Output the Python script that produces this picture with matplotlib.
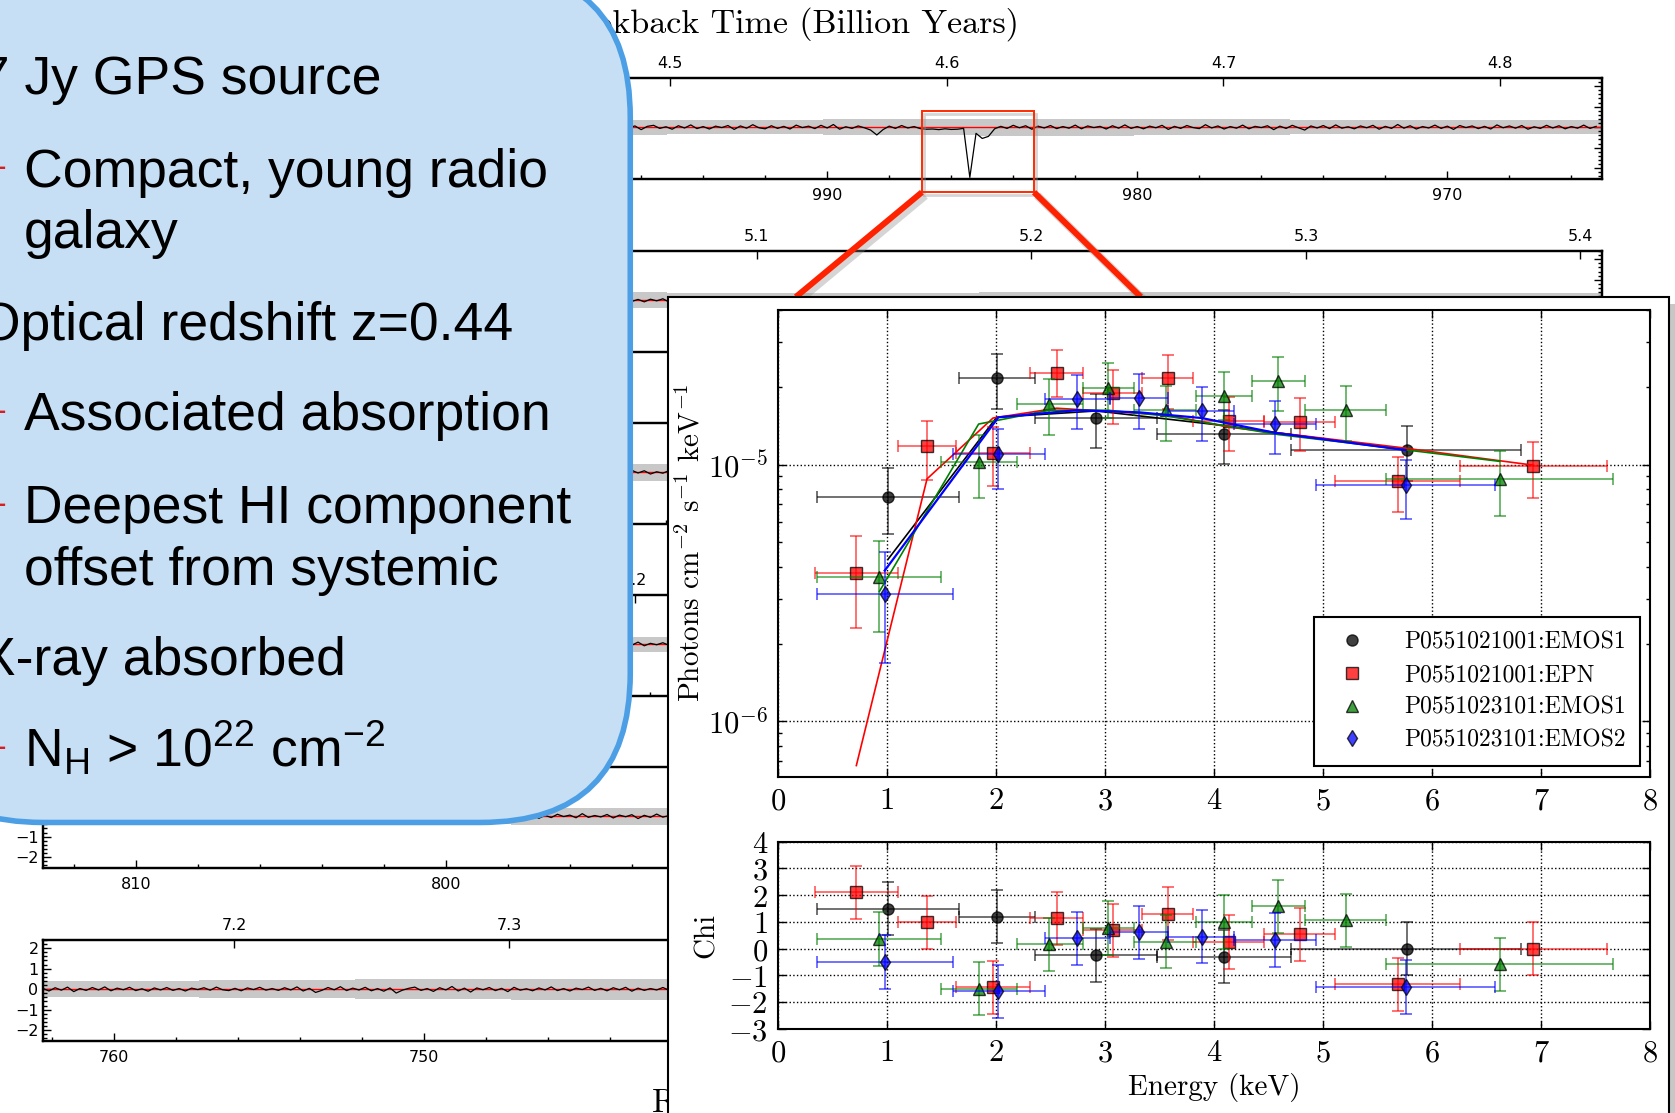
import numpy as np
import matplotlib.pyplot as plt
from matplotlib.patches import FancyBboxPatch, Rectangle
from matplotlib.lines import Line2D
from matplotlib.ticker import MultipleLocator, LogLocator, FuncFormatter, NullFormatter

plt.rcParams['mathtext.fontset'] = 'cm'
plt.rcParams['mathtext.rm'] = 'Liberation Sans'
plt.rcParams['mathtext.it'] = 'Liberation Sans:italic'
plt.rcParams['mathtext.bf'] = 'Liberation Sans:bold'

W, H = 1568.0, 1042.0  # layout units: pixels of the slide view


def box(x0, y0, x1, y1):
    return [x0 / W, 1 - y1 / H, (x1 - x0) / W, (y1 - y0) / H]


# ---------------- X-ray spectrum data (E in keV, flux in photons/cm2/s/keV) ----------------
k_e = [1.011, 2.007, 2.921, 4.092, 5.765]
k_elo = [0.364, 1.665, 2.356, 3.48, 4.709]
k_ehi = [1.665, 2.356, 3.48, 4.709, 6.81]
k_f = [7.48e-6, 2.17e-5, 1.52e-5, 1.32e-5, 1.14e-5]
k_flo = [5.34e-6, 1.65e-5, 1.16e-5, 1.01e-5, 8.6e-6]
k_fhi = [9.70e-6, 2.70e-5, 1.88e-5, 1.64e-5, 1.42e-5]
k_mod = [4.27e-6, 1.53e-5, 1.62e-5, 1.42e-5, 1.14e-5]
k_chi = [1.49, 1.19, -0.26, -0.30, 0.0]

r_e = [0.721, 1.369, 1.974, 2.557, 3.074, 3.578, 4.138, 4.786, 5.682, 6.927]
r_elo = [0.342, 1.1, 1.638, 2.313, 2.799, 3.339, 3.807, 4.459, 5.110, 6.251]
r_ehi = [1.1, 1.638, 2.313, 2.799, 3.339, 3.807, 4.459, 5.110, 6.251, 7.606]
r_f = [3.79e-6, 1.18e-5, 1.11e-5, 2.27e-5, 1.90e-5, 2.17e-5, 1.48e-5, 1.47e-5, 8.61e-6, 9.88e-6]
r_flo = [2.30e-6, 8.69e-6, 8.28e-6, 1.83e-5, 1.44e-5, 1.65e-5, 1.13e-5, 1.13e-5, 6.53e-6, 7.40e-6]
r_fhi = [5.28e-6, 1.48e-5, 1.40e-5, 2.80e-5, 2.34e-5, 2.68e-5, 1.83e-5, 1.82e-5, 1.07e-5, 1.23e-5]
r_mod = [6.7e-7, 8.8e-6, 1.52e-5, 1.66e-5, 1.61e-5, 1.56e-5, 1.40e-5, 1.30e-5, 1.17e-5, 9.95e-6]
r_chi = [2.1, 0.975, -1.45, 1.125, 0.675, 1.3, 0.24, 0.525, -1.34, 0.0]

g_e = [0.932, 1.842, 2.490, 3.031, 3.556, 4.092, 4.590, 5.205, 6.618]
g_elo = [0.364, 1.5, 2.19, 2.799, 3.266, 3.837, 4.349, 4.832, 5.578]
g_ehi = [1.5, 2.19, 2.799, 3.266, 3.837, 4.349, 4.832, 5.578, 7.654]
g_f = [3.63e-6, 1.02e-5, 1.73e-5, 1.99e-5, 1.63e-5, 1.85e-5, 2.12e-5, 1.63e-5, 8.77e-6]
g_flo = [2.23e-6, 7.38e-6, 1.30e-5, 1.52e-5, 1.24e-5, 1.49e-5, 1.62e-5, 1.24e-5, 6.30e-6]
g_fhi = [5.05e-6, 1.30e-5, 2.16e-5, 2.49e-5, 2.02e-5, 2.30e-5, 2.62e-5, 2.02e-5, 1.13e-5]
g_mod = [3.2e-6, 1.44e-5, 1.63e-5, 1.63e-5, 1.55e-5, 1.42e-5, 1.31e-5, 1.22e-5, 1.03e-5]
g_chi = [0.35, -1.5, 0.16, 0.775, 0.26, 0.99, 1.575, 1.05, -0.59]

b_e = [0.981, 2.023, 2.744, 3.312, 3.886, 4.563, 5.755]
b_elo = [0.364, 1.607, 2.447, 3.043, 3.578, 4.183, 4.933]
b_ehi = [1.607, 2.447, 3.043, 3.578, 4.183, 4.933, 6.572]
b_f = [3.13e-6, 1.10e-5, 1.81e-5, 1.82e-5, 1.62e-5, 1.44e-5, 8.31e-6]
b_flo = [1.68e-6, 8.07e-6, 1.38e-5, 1.38e-5, 1.24e-5, 1.10e-5, 6.16e-6]
b_fhi = [4.57e-6, 1.38e-5, 2.23e-5, 2.26e-5, 2.00e-5, 1.77e-5, 1.04e-5]
b_mod = [3.86e-6, 1.53e-5, 1.63e-5, 1.60e-5, 1.52e-5, 1.33e-5, 1.14e-5]
b_chi = [-0.5, -1.6, 0.375, 0.6, 0.44, 0.325, -1.44]

series_names = ['P0551021001:EMOS1', 'P0551021001:EPN', 'P0551023101:EMOS1', 'P0551023101:EMOS2']
series_colors = ['black', 'red', 'green', 'blue']
series_markers = ['o', 's', '^', 'd']
model_widths = [1.2, 1.2, 1.2, 1.6]

# ---------------- HI spectra (optical depth-like units, x100) ----------------
hi_start = [1015.3, 964.7, 914.1, 863.6, 813.0, 762.3]   # MHz at left edge
hi_width = 50.3
hi_top = [73, 235, 396, 557, 718, 880]
hi_step = 0.2

p1_f0 = 997.0
p1 = [5, -8, 10, -3, 6, -12, 4, 9, -6, 2, -10, 7, -4, 11, -7, 3, -9, 5, -2, 8,
      -11, 6, -5, 12, -3, -8, 7, -6, 4, -9, 10, -2, 5, -7, 9, -4, 13, -10, 2, -6,
      6, -3, -14, -38, -12, 5, -6, 8, -4, 3, -7, -10, -9, -12, -8, -11, -10, -6, -245, -30,
      -55, -45, -8, 4, -6, 9, -3, 7, -10, 5, -4, 8, -7, 3, -5, 10, -8, 6, -2, 4,
      -9, 7, -5, 11, -6, 3, -8, 5, -3, 9, -11, 4, -6, 8, -2, -7, 12, -4, 6, -9,
      3, -5, 10, -8, 4, -2, 7, -12, 5, -6, 9, -3, -14, 6, -4, 8, -7, 11, -5, 2,
      -8, 6, -3, 9, -10, 4, -6, 13, -5, 7, -9, 3, -4, 10, -6, 5, -11, 8, -2, 6,
      -7, 4, -9, 11, -3, 6, -5, 8, -10, 2, -6, 9, -4, 7, -8, 3, -5, 10, -6, 4]
p2 = [6, -4, 9, -7, 3, -10, 5, -2, 8, -6, 4, -9, 7, -3, 10, -5, 2, -8, 6, -4,
      9, -7, 3, -5, 11, -6, 4, -8, 5, -3, 7, -9, 4, -2, 8, -6, 3, -7, 5, -4, 6]
p3 = [-5, 8, -3, 6, -9, 4, -7, 10, -4, 3, -8, 6, -2, 9, -6, 12, -5, 4, -10, 7,
      -3, 5, -8, 3, -6, 9, -4, 7, -9, 2, -5, 8, -3, 6, -7, 4, -10, 5, -2, 7, -6]
p4 = [4, -7, 9, -3, 6, -10, 3, -5, 8, -6, 11, -4, 2, -8, 7, -3, 9, -6, 4, -9,
      6, -2, 8, -7, 3, -5, 10, -8, 4, -3, 7, -6, 12, -4, 5, -9, 3, -6, 8, -2, 5]
p5 = [-6, 9, -4, 7, -10, 3, -5, 8, -3, 6, -11, 4, -7, 9, -2, 5, -8, 12, -6, 3,
      -4, 8, -9, 5, -3, 7, -12, 4, -6, 10, -5, 3, -8, 6, -2, 9, -7, 4, -5, 8, -3]
p6 = [4, -9, 7, -5, 10, -12, 3, -6, 8, -4, 11, -8, 5, -3, 9, -7, 2, -10, 6, -4,
      8, -6, 3, -9, 5, -2, 7, -5, 10, -3, -7, 4, -8, 6, -2, 9, -5, 3, -6, 7,
      -4, 11, -9, 4, -16, -6, 8, -3, 12, -7, 5, -4, 9, -8, 3, -10, 6, -19, -5, 4,
      10, -6, 3, -11, 7, -4, 13, -9, 5, -14, 6, -3, 8, -7, 4, -12, 9, -5, 2, -8,
      6, -4, 11, -7, 3, -9, 5, -2, 10, -6, 4, -8, 7, -3, 9, -10, 5, -6, 3, -4, 8, -5]
hi_vals = [p1, p2, p3, p4, p5, p6]
hi_f0 = [p1_f0, hi_start[1] - 14, hi_start[2] - 14, hi_start[3] - 14, hi_start[4] - 14, hi_start[5]]

# rms band, ten segments per panel
hi_band = [[0.40, 0.38, 0.36, 0.36, 0.33, 0.38, 0.42, 0.40, 0.35, 0.33],
           [0.38, 0.36, 0.40, 0.38, 0.36, 0.35, 0.38, 0.40, 0.36, 0.35],
           [0.36, 0.38, 0.40, 0.42, 0.38, 0.36, 0.38, 0.40, 0.38, 0.36],
           [0.38, 0.40, 0.38, 0.36, 0.40, 0.42, 0.40, 0.38, 0.36, 0.38],
           [0.40, 0.40, 0.38, 0.42, 0.45, 0.44, 0.42, 0.40, 0.40, 0.42],
           [0.38, 0.44, 0.50, 0.52, 0.50, 0.48, 0.46, 0.45, 0.45, 0.45]]

# slide text
bullet_text = ['1.7 Jy GPS source', 'Compact, young radio', 'galaxy', 'Optical redshift z=0.44',
               'Associated absorption', 'Deepest HI component', 'offset from systemic',
               'X-ray absorbed', r'N$_\mathrm{H}$ > 10$^{22}$ cm$^\mathrm{-2}$']
bullet_level = [1, 2, 2, 1, 2, 2, 2, 1, 2]
bullet_base = [88, 175, 232, 318, 403, 490, 548, 632, 718]
bullet_rend = [357, None, None, 480, None, None, None, 324, None]

# lookback time for flat LCDM, H0=70, Om=0.3
z_grid = np.linspace(0, 1.2, 2401)
integrand = 1.0 / ((1 + z_grid) * np.sqrt(0.3 * (1 + z_grid) ** 3 + 0.7))
t_grid = 977.8 / 70 * np.concatenate([[0], np.cumsum(0.5 * (integrand[1:] + integrand[:-1]) * np.diff(z_grid))])
f_grid = 1420.405751 / (1 + z_grid)


def freq_to_t(f):
    return np.interp(f, f_grid[::-1], t_grid[::-1])


def t_to_freq(t):
    return np.interp(t, t_grid, f_grid)


fig = plt.figure(figsize=(16.75, 11.13), dpi=100)

# ---------------- HI panels (background) ----------------
for i in range(6):
    f0 = hi_start[i]
    f1 = f0 - hi_width
    ax = fig.add_axes(box(40, hi_top[i], 1500, hi_top[i] + 95), zorder=1)
    edges = np.linspace(f0, f1, len(hi_band[i]) + 1)
    sig = np.append(hi_band[i], hi_band[i][-1])
    ax.fill_between(edges, -sig, sig, step='post', color='#c8c8c8', lw=0)
    ax.axhline(0, color='red', lw=1.0)
    vals = np.array(hi_vals[i]) / 100.0
    freq = hi_f0[i] - hi_step * np.arange(len(vals))
    ax.plot(freq, vals, color='black', lw=0.9)
    ax.set_xlim(f0, f1)
    ax.set_ylim(-2.55, 2.4)
    ax.xaxis.set_major_locator(MultipleLocator(10))
    ax.xaxis.set_minor_locator(MultipleLocator(2))
    ax.yaxis.set_major_locator(MultipleLocator(1))
    ax.yaxis.set_minor_locator(MultipleLocator(0.2))
    ax.tick_params(which='both', direction='in', right=True, top=False, labelsize=11.5)
    ax.tick_params(which='major', length=6, width=1)
    ax.tick_params(which='minor', length=3, width=1)
    ax.tick_params(axis='x', pad=6)
    ax.tick_params(axis='y', pad=3)
    for s in ax.spines.values():
        s.set_linewidth(1.6)
    tmin, tmax = freq_to_t(f0), freq_to_t(f1)
    tv = np.arange(np.ceil(tmin * 10), np.floor(tmax * 10) + 1) / 10.0
    top = ax.twiny()
    top.set_xlim(f0, f1)
    top.set_xticks(t_to_freq(tv))
    top.set_xticklabels(['%.1f' % v for v in tv])
    top.tick_params(direction='in', length=6, width=1, labelsize=11.5, pad=5)
    for s in top.spines.values():
        s.set_linewidth(1.6)

# ---------------- slide overlay ----------------
ov = fig.add_axes([0, 0, 1, 1], zorder=2)
ov.set_xlim(0, W)
ov.set_ylim(H, 0)
ov.axis('off')

ov.text(954, 30, 'Lookback Time (Billion Years)', ha='right', va='baseline',
        fontsize=24.5, family='cmr10', zorder=1)
ov.text(610, 1041, 'Redshifted Frequency (MHz)', ha='left', va='baseline',
        fontsize=24, family='cmr10', zorder=1)

# zoom box on the absorption line
zx0, zy0, zx1, zy1 = 863, 104, 968, 180
ov.add_patch(Rectangle((zx0 + 2, zy0 + 3), zx1 - zx0, zy1 - zy0, fill=False,
                       ec='#999999', lw=2, alpha=0.4, zorder=3))
ov.add_patch(Rectangle((zx0, zy0), zx1 - zx0, zy1 - zy0, fill=False, ec='#ff2a00', lw=1.4, zorder=4))
for xa, xb in [(zx0, 745), (zx1, 1068)]:
    ov.plot([xa + 3, xb + 3], [zy1 + 3, 281], color='#888888', lw=6, alpha=0.35,
            solid_capstyle='butt', zorder=3)
    ov.plot([xa, xb], [zy1, 278], color='#ff2200', lw=4.3, solid_capstyle='butt', zorder=4)

# bullet box
ov.add_patch(FancyBboxPatch((-100, -30), 690, 800, boxstyle='round,pad=0,rounding_size=140',
                            fc='#c7dff4', ec='#4c9fe5', lw=4, zorder=2))
for txt, lev, yb, xr in zip(bullet_text, bullet_level, bullet_base, bullet_rend):
    if lev == 1:
        ov.text(xr, yb, txt, ha='right', va='baseline', fontsize=38.5,
                family='Liberation Sans', math_fontfamily='custom', zorder=3)
    else:
        ov.text(22, yb, txt, ha='left', va='baseline', fontsize=38.5,
                family='Liberation Sans', math_fontfamily='custom', zorder=3)
        if txt[0].isupper():
            ov.text(5, yb - 18, '\u2013', ha='right', va='center', fontsize=26,
                    color='#d81e1e', family='Liberation Sans', zorder=3)

# X-ray figure card
ov.add_patch(Rectangle((631, 285), 937, 820, fc='#9a9a9a', ec='none', alpha=0.55, zorder=5))
ov.add_patch(Rectangle((625, 278), 937, 820, fc='white', ec='black', lw=1.5, zorder=6))

# ---------------- X-ray spectrum ----------------
axm = fig.add_axes(box(728, 290, 1545, 727), zorder=7)
axc = fig.add_axes(box(728, 788, 1545, 963), zorder=7)

all_series = [
    (k_e, k_elo, k_ehi, k_f, k_flo, k_fhi, k_mod, k_chi),
    (r_e, r_elo, r_ehi, r_f, r_flo, r_fhi, r_mod, r_chi),
    (g_e, g_elo, g_ehi, g_f, g_flo, g_fhi, g_mod, g_chi),
    (b_e, b_elo, b_ehi, b_f, b_flo, b_fhi, b_mod, b_chi),
]
handles = []
for (e, elo, ehi, f, flo, fhi, mod, chi), c, m, lw, name in zip(all_series, series_colors, series_markers,
                                                                 model_widths, series_names):
    e = np.array(e)
    f = np.array(f)
    xerr = [e - np.array(elo), np.array(ehi) - e]
    axm.errorbar(e, f, xerr=xerr, yerr=[f - np.array(flo), np.array(fhi) - f], fmt='none',
                 ecolor=c, alpha=0.6, elinewidth=1.3, capsize=4, capthick=1.3)
    axm.plot(e, f, ls='none', marker=m, ms=8, color=c, mec='k', alpha=0.75)
    axm.plot(e, mod, color=c, lw=lw)
    axc.errorbar(e, chi, xerr=xerr, yerr=1.0, fmt='none', ecolor=c, alpha=0.6,
                 elinewidth=1.3, capsize=4, capthick=1.3)
    axc.plot(e, chi, ls='none', marker=m, ms=8, color=c, mec='k', alpha=0.75)
    handles.append(Line2D([], [], ls='none', marker=m, ms=8, color=c, mec='k', alpha=0.75, label=name))

int_fmt = FuncFormatter(lambda v, p: r'$%d$' % int(round(v)))
for a in (axm, axc):
    a.set_xlim(0, 8)
    a.xaxis.set_major_locator(MultipleLocator(1))
    a.xaxis.set_major_formatter(int_fmt)
    a.grid(True, which='major', ls=':', color='black', lw=1)
    a.tick_params(which='both', direction='in', top=True, right=True, labelsize=22)
    a.tick_params(which='major', length=6, width=1, pad=7)
    a.tick_params(which='minor', length=3, width=1)
    for s in a.spines.values():
        s.set_linewidth(1.5)

axm.set_yscale('log')
axm.set_ylim(6.07e-7, 4.02e-5)
axm.yaxis.set_major_locator(LogLocator(base=10))
axm.yaxis.set_minor_locator(LogLocator(base=10, subs=np.arange(2, 10)))
axm.yaxis.set_major_formatter(FuncFormatter(lambda v, p: r'$10^{%d}$' % int(round(np.log10(v)))))
axm.yaxis.set_minor_formatter(NullFormatter())
axm.set_ylabel(r'Photons cm$^{-2}$ s$^{-1}$ keV$^{-1}$', fontsize=21, family='cmr10')
axm.yaxis.set_label_coords(-0.083, 0.5)
axm.legend(handles=handles, loc='lower right', bbox_to_anchor=(0.988, 0.023), borderaxespad=0,
           numpoints=1, fancybox=False, framealpha=1, edgecolor='black',
           prop={'family': 'cmr10', 'size': 17}, labelspacing=0.45, handletextpad=1.2,
           borderpad=0.6).get_frame().set_linewidth(1.5)

axc.set_ylim(-3, 4)
axc.yaxis.set_major_locator(MultipleLocator(1))
axc.yaxis.set_major_formatter(int_fmt)
axc.set_ylabel('Chi', fontsize=21, family='cmr10')
axc.yaxis.set_label_coords(-0.066, 0.5)
axc.set_xlabel('Energy (keV)', fontsize=21, family='cmr10')
axc.xaxis.set_label_coords(0.5, -0.24)

fig.savefig('out.png', dpi=100)
